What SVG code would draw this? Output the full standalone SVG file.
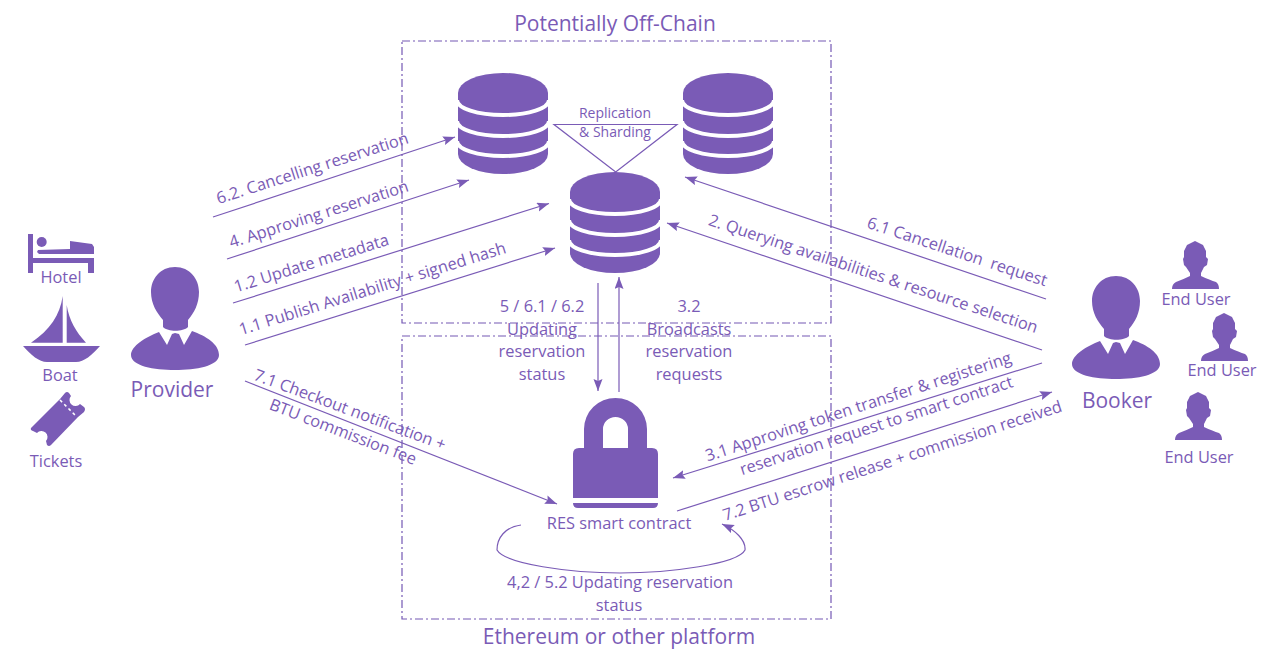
<svg xmlns="http://www.w3.org/2000/svg" width="1288" height="665" viewBox="0 0 1288 665">
<style>
text{font-family:"Open Sans","Noto Sans","Liberation Sans",sans-serif;fill:#7a5bb6;text-anchor:middle}
.i{fill:#7a5bb6}
.l{font-size:16.4px}
.s{font-size:14px}
.t{font-size:21px}
.p{font-size:21px}
.c{fill:none;stroke:#7a5bb6;stroke-width:1.2}
.a{marker-end:url(#ah)}
.box{fill:none;stroke:#7458b4;stroke-width:1.2;stroke-dasharray:8 3 2 3}
.band{fill:none;stroke:#fff;stroke-width:4}
</style>
<defs>
<marker id="ah" markerUnits="userSpaceOnUse" markerWidth="13" markerHeight="10" refX="12" refY="4.5" orient="auto"><path d="M0 0L12 4.500L0 9L2 4.500Z" fill="#7a5bb6"/></marker>
<symbol id="db" overflow="visible"><path class="i" d="M0 20A45 20 0 0 1 90 20V81A45 20 0 0 1 0 81Z"/><path class="band" d="M-1 27A46 15 0 0 0 91 27M-1 48A46 15 0 0 0 91 48M-1 68A46 15 0 0 0 91 68"/></symbol>
<symbol id="person" overflow="visible"><path class="i" d="M44 0C59 0 68 12 68 25C68 37 63 46 57 53L57 60C52 65 37 65 32 60L32 53C26 46 20 37 20 25C20 12 29 0 44 0Z"/><path class="i" d="M28 65L36 78L41 67L44 66L48 67L53 78L61 64C75 69 88 77 88 88C88 99 65 103 44 103C23 103 0 99 0 88C0 79 15 70 28 65Z"/></symbol>
<symbol id="user" overflow="visible"><path class="i" d="M23 0L31 4L34 10L34 16L36 18L35 24L32 26L29 32L29 35Q38 39 44 41Q47 43 47 48H0Q0 43 4 41Q12 38 18 35L18 32L14 26L12 24L11 18L12 16L12 10L15 4Z"/></symbol>
</defs>
<g id="off-chain"><rect class="box" x="402" y="41" width="429" height="282"/><text class="t" x="615" y="31">Potentially Off-Chain</text></g>
<g id="platform"><rect class="box" x="402" y="336" width="429" height="283"/><text class="t" x="619" y="644">Ethereum or other platform</text></g>
<g id="hotel"><path class="i" d="M28 234H33V258H94V273H88V263H33V273H28Z"/><circle class="i" cx="41.700" cy="242" r="5"/><path class="i" d="M70 241L92 244L94 247V254H39L37 252L38 250L70 249Z"/><text class="l" x="61" y="283">Hotel</text></g>
<g id="boat"><path class="i" d="M62.700 296V342.700H31C50 330 60 315 62.700 296ZM66.700 305V342.700H86C76 332 69 320 66.700 305ZM23 346H100C92 355 84 362 76 362H47C39 362 31 355 23 346Z"/><text class="l" x="60" y="381">Boat</text></g>
<g id="tickets"><path class="i" d="M31 428L60 399L65 393Q67 391 69 393L71 396A6 6 0 0 0 80 404L84 407Q86 409 84 412L78 417L51 445Q49 447 47 445L46 441A6 6 0 0 0 37 433L33 431Q30 430 31 428Z"/><path d="M60 400L77 417" stroke="#fff" stroke-width="1.500" stroke-dasharray="3 3" fill="none"/><text class="l" x="56" y="467">Tickets</text></g>
<g id="provider"><use href="#person" x="131" y="267"/><text class="p" x="172" y="397">Provider</text></g>
<g id="booker"><use href="#person" x="1072" y="276"/><text class="p" x="1117" y="408">Booker</text></g>
<g id="end-user-1"><use href="#user" x="1172" y="241"/><text class="l" x="1196" y="305">End User</text></g>
<g id="end-user-2"><use href="#user" x="1201" y="313"/><text class="l" x="1222" y="376">End User</text></g>
<g id="end-user-3"><use href="#user" x="1175" y="392"/><text class="l" x="1199" y="463">End User</text></g>
<g id="db-left"><use href="#db" x="458" y="73"/></g>
<g id="db-right"><use href="#db" x="683" y="73"/></g>
<g id="db-center"><use href="#db" x="570" y="172"/></g>
<g id="lock"><path class="i" d="M584 448V429A31.500 31 0 0 1 647 429V448H628V429A12.500 12 0 0 0 603 429V448ZM579 448H652Q658 448 658 454V498H573V454Q573 448 579 448ZM573 503H658Q658 508 653 508H578Q573 508 573 503Z"/><text class="l" x="619" y="529">RES smart contract</text></g>
<g id="connectors">
<path class="c" d="M554 124.500H677L615.700 172Z"/>
<path class="c a" d="M213 217L455 137"/>
<path class="c a" d="M227 259L469 180"/>
<path class="c a" d="M233 303L549 203.500"/>
<path class="c a" d="M245 345L555 248"/>
<path class="c a" d="M1046 299L685 177"/>
<path class="c a" d="M1042 350L667 223"/>
<path class="c a" d="M598 283V391"/>
<path class="c a" d="M619 392V277"/>
<path class="c a" d="M245 381L557 504"/>
<path class="c a" d="M1042 363L673 478"/>
<path class="c a" d="M677 511L1052 392"/>
<path class="c a" d="M521 525C505 527 497 538 497 550C505 564 570 573 620 573C670 573 738 564 745 550C746 540 735 530 722 524"/>
</g>
<g id="labels">
<text class="s" x="615" y="118">Replication</text>
<text class="s" x="615" y="137">&amp; Sharding</text>
<text class="l" transform="translate(314 173.500) rotate(-17.800)">6.2. Cancelling reservation</text>
<text class="l" transform="translate(320.500 219.500) rotate(-17.800)">4. Approving reservation</text>
<text class="l" transform="translate(313 268.500) rotate(-17.300)">1.2 Update metadata</text>
<text class="l" transform="translate(374 294) rotate(-17.200)">1.1 Publish Availability + signed hash</text>
<text class="l" x="542" y="312">5 / 6.1 / 6.2</text>
<text class="l" x="542" y="335">Updating</text>
<text class="l" x="542" y="357">reservation</text>
<text class="l" x="542" y="380">status</text>
<text class="l" x="689" y="312">3.2</text>
<text class="l" x="689" y="335">Broadcasts</text>
<text class="l" x="689" y="357">reservation</text>
<text class="l" x="689" y="380">requests</text>
<text class="l" xml:space="preserve" transform="translate(955.500 257) rotate(18.200)">6.1 Cancellation  request</text>
<text class="l" transform="translate(871.500 279) rotate(18.300)">2. Querying availabilities &amp; resource selection</text>
<text class="l" transform="translate(348 415) rotate(20.500)">7.1 Checkout notification +</text>
<text class="l" transform="translate(341 437) rotate(21)">BTU commission fee</text>
<text class="l" transform="translate(860 412) rotate(-18)">3.1 Approving token transfer &amp; registering</text>
<text class="l" transform="translate(878 431) rotate(-18)">reservation request to smart contract</text>
<text class="l" transform="translate(894 466) rotate(-18)">7.2 BTU escrow release + commission received</text>
<text class="l" x="620" y="588">4,2 / 5.2 Updating reservation</text>
<text class="l" x="619" y="611">status</text>
</g>
</svg>
